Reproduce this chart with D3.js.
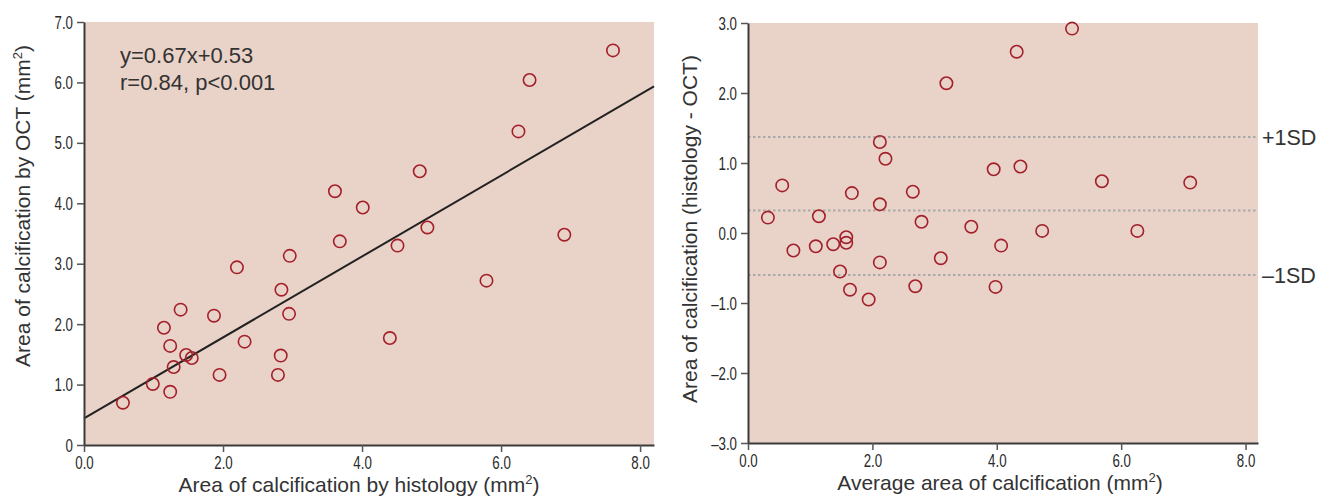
<!DOCTYPE html>
<html lang="en">
  <head>
    <meta charset="UTF-8" />
    <title>Calcification area: OCT vs histology</title>
    <script src="https://d3js.org/d3.v7.min.js"></script>
    <style>
      body {
        margin: 0;
        background: #ffffff;
        font-family: "Liberation Sans", Arial, sans-serif;
      }
      svg {
        display: block;
      }
      .tick line {
        stroke: #555;
        stroke-width: 1.5;
      }
      .domain {
        stroke: #3a3a3a;
        stroke-width: 2;
      }
      .title {
        font-size: 21px;
        fill: #333;
      }
      .eq {
        font-size: 22px;
      }
    </style>
  </head>
  <body>
    <svg id="chart" width="1317" height="497"></svg>
    <script>
      // left panel: histology (x) vs OCT (y)
      const histology = [
        0.56, 0.99, 1.24, 1.15, 1.24, 1.39, 1.29, 1.47, 1.55, 1.87, 1.95, 2.2,
        2.31, 2.79, 2.83, 2.84, 2.95, 2.96, 3.61, 3.68, 4.01, 4.4, 4.51, 4.83,
        4.94, 5.79, 6.25, 6.41, 6.91, 7.61,
      ];
      const oct = [
        0.7, 1.01, 0.88, 1.94, 1.64, 2.24, 1.29, 1.49, 1.44, 2.14, 1.16, 2.94,
        1.71, 1.16, 1.48, 2.57, 2.17, 3.13, 4.2, 3.37, 3.93, 1.77, 3.3, 4.53,
        3.6, 2.72, 5.19, 6.04, 3.48, 6.53,
      ];
      const fitSlope = 0.67;
      const fitIntercept = 0.44; // as drawn in the figure
      const fitLabel = ["y=0.67x+0.53", "r=0.84, p<0.001"];

      // right panel: Bland-Altman
      const avgArea = [
        0.32, 0.55, 0.73, 1.14, 1.09, 1.37, 1.58, 1.58, 1.67, 2.12, 2.21, 2.12,
        2.65, 2.79, 3.19, 3.59, 3.95, 4.07, 1.48, 1.64, 1.94, 2.12, 2.69, 3.1,
        3.98, 4.32, 5.21, 4.38, 5.69, 7.11, 4.73, 6.26,
      ];
      const diffArea = [
        0.22, 0.68, -0.25, 0.24, -0.19, -0.16, -0.06, -0.14, 0.57, 1.3, 1.06,
        0.41, 0.59, 0.16, 2.14, 0.09, 0.91, -0.18, -0.55, -0.81, -0.95, -0.42,
        -0.76, -0.36, -0.77, 2.59, 2.92, 0.95, 0.74, 0.72, 0.03, 0.03,
      ];
      const sdLines = [1.37, 0.32, -0.6];
      const sdLabels = ["+1SD", "", "\u20131SD"];

      const leftXTicks = [0, 2, 4, 6, 8];
      const leftYTicks = [0, 1, 2, 3, 4, 5, 6, 7];
      const rightXTicks = [0, 2, 4, 6, 8];
      const rightYTicks = [-3, -2, -1, 0, 1, 2, 3];

      const bg = "#e9d2c7";
      const red = "#a3202b";
      const narrow = 0.7; // condensed look of the tick labels

      const svg = d3.select("#chart");

      // axis title with a real superscript "2"
      function title(sel, text) {
        const parts = text.split("^");
        sel.append("tspan").text(parts[0]);
        if (parts.length > 1) {
          sel
            .append("tspan")
            .attr("dy", -8)
            .attr("font-size", 13)
            .text(parts[1]);
          sel.append("tspan").attr("dy", 8).text(parts[2]);
        }
      }

      function styleTicks(sel) {
        sel
          .style("font-family", '"Liberation Sans", Arial, sans-serif')
          .style("font-size", "19px")
          .style("fill", "#2a2a2a")
          .attr("transform", `scale(${narrow},1)`);
      }

      function panel(opts) {
        const g = svg
          .append("g")
          .attr("transform", `translate(${opts.left},${opts.top})`);
        const x = d3.scaleLinear().domain(opts.xDomain).range([0, opts.w]);
        const y = d3.scaleLinear().domain(opts.yDomain).range([opts.h, 0]);

        g.append("rect")
          .attr("width", opts.w)
          .attr("height", opts.h)
          .attr("fill", bg);

        const xa = g
          .append("g")
          .attr("class", "axis")
          .attr("transform", `translate(0,${opts.h})`)
          .call(
            d3
              .axisBottom(x)
              .tickValues(opts.xTicks)
              .tickSize(7)
              .tickSizeOuter(0)
              .tickPadding(4)
              .tickFormat((d) => d.toFixed(1))
          );
        xa.selectAll(".tick text").call(styleTicks);

        const ya = g
          .append("g")
          .attr("class", "axis")
          .call(
            d3
              .axisLeft(y)
              .tickValues(opts.yTicks)
              .tickSize(7)
              .tickSizeOuter(0)
              .tickPadding(4)
              .tickFormat(opts.yFormat)
          );
        ya.selectAll(".tick text").attr("x", -11 / narrow).call(styleTicks);

        g.append("text")
          .attr("class", "title")
          .attr("x", opts.w / 2 + opts.xTitleDx)
          .attr("y", opts.h + 47)
          .attr("text-anchor", "middle")
          .call(title, opts.xTitle);
        g.append("text")
          .attr("class", "title")
          .attr(
            "transform",
            `translate(${opts.yTitleX},${opts.yTitleY}) rotate(-90)`
          )
          .attr("text-anchor", "middle")
          .call(title, opts.yTitle);

        return { g, x, y };
      }

      // ---- left panel
      const L = panel({
        left: 84,
        top: 22,
        w: 570,
        h: 423,
        xDomain: [0, 8.2],
        yDomain: [0, 7],
        xTicks: leftXTicks,
        yTicks: leftYTicks,
        yFormat: (d) => (d === 0 ? "0" : d.toFixed(1)),
        xTitle: "Area of calcification by histology (mm^2^)",
        xTitleDx: -10,
        yTitle: "Area of calcification by OCT (mm^2^)",
        yTitleX: -54,
        yTitleY: 184,
      });

      L.g.append("line")
        .attr("x1", L.x(0))
        .attr("y1", L.y(fitIntercept))
        .attr("x2", L.x(8.2))
        .attr("y2", L.y(fitIntercept + fitSlope * 8.2))
        .attr("stroke", "#222")
        .attr("stroke-width", 2);

      L.g.selectAll("circle")
        .data(histology.map((v, i) => [v, oct[i]]))
        .join("circle")
        .attr("cx", (d) => L.x(d[0]))
        .attr("cy", (d) => L.y(d[1]))
        .attr("r", 6.2)
        .attr("fill", "none")
        .attr("stroke", red)
        .attr("stroke-width", 1.6);

      L.g.selectAll(".eq")
        .data(fitLabel)
        .join("text")
        .attr("class", "eq title")
        .attr("x", 36)
        .attr("y", (d, i) => 41 + i * 27)
        .text((d) => d);

      // ---- right panel
      const R = panel({
        left: 748,
        top: 23,
        w: 510,
        h: 420,
        xDomain: [0, 8.2],
        yDomain: [-3, 3],
        xTicks: rightXTicks,
        yTicks: rightYTicks,
        yFormat: (d) =>
          d < 0 ? "\u2013" + (-d).toFixed(1) : d.toFixed(1),
        xTitle: "Average area of calcification (mm^2^)",
        xTitleDx: -3,
        yTitle: "Area of calcification (histology - OCT)",
        yTitleX: -51,
        yTitleY: 206,
      });

      R.g.selectAll(".sd")
        .data(sdLines)
        .join("line")
        .attr("class", "sd")
        .attr("x1", 0)
        .attr("x2", R.x(8.2))
        .attr("y1", (d) => R.y(d))
        .attr("y2", (d) => R.y(d))
        .attr("stroke", "#a9a9a9")
        .attr("stroke-width", 2)
        .attr("stroke-dasharray", "2.5,2.5");

      R.g.selectAll(".sdlab")
        .data(sdLines)
        .join("text")
        .attr("class", "sdlab title")
        .attr("x", R.x(8.2) + 4)
        .attr("y", (d) => R.y(d) + 8)
        .style("font-size", "21.5px")
        .text((d, i) => sdLabels[i]);

      R.g.selectAll("circle")
        .data(avgArea.map((v, i) => [v, diffArea[i]]))
        .join("circle")
        .attr("cx", (d) => R.x(d[0]))
        .attr("cy", (d) => R.y(d[1]))
        .attr("r", 6.2)
        .attr("fill", "none")
        .attr("stroke", red)
        .attr("stroke-width", 1.6);

      // keep axes on top of marks
      L.g.selectAll(".axis").raise();
      R.g.selectAll(".axis").raise();
    </script>
  </body>
</html>
